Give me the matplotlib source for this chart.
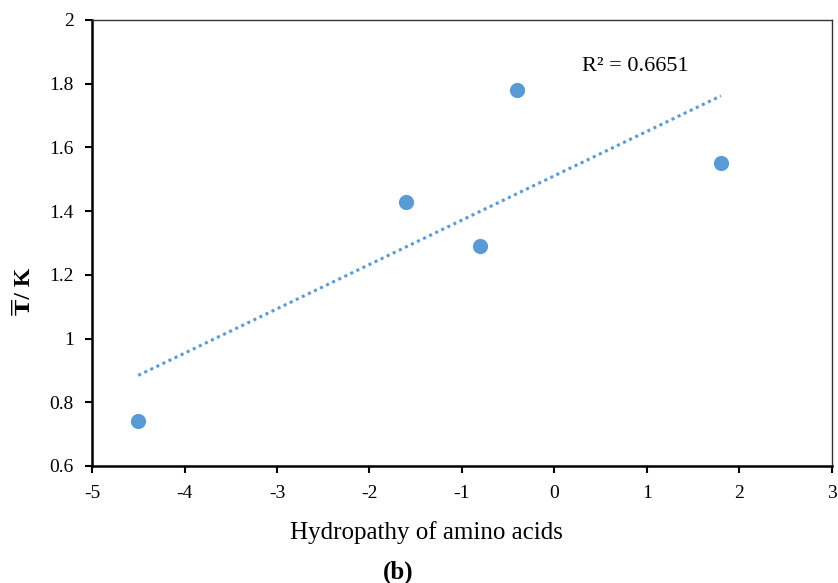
import numpy as np
import matplotlib
matplotlib.use("Agg")
import matplotlib.pyplot as plt

plt.rcParams['font.family'] = ['Liberation Serif', 'DejaVu Serif']
plt.rcParams['axes.unicode_minus'] = False

hydropathy = [-4.5, -1.6, -0.8, -0.4, 1.8]
t_bar = [0.74, 1.43, 1.29, 1.78, 1.55]
r2_text = "R² = 0.6651"

fig = plt.figure(figsize=(8.38, 5.83), dpi=100)
ax = fig.add_axes([0.1098, 0.2007, 0.8830, 0.7650])

ax.scatter(hydropathy, t_bar, s=120, color='#5B9BD5', zorder=3, linewidths=0)

# linear trendline
k, b = np.polyfit(hydropathy, t_bar, 1)
xs = np.array([min(hydropathy), max(hydropathy)])
ax.plot(xs, k * xs + b, linestyle=(0, (1, 1.2)), color='#5B9BD5', linewidth=2.2)

ax.text(0.30, 1.84, r2_text, fontsize=16)

ax.set_xlim(-5, 3)
ax.set_ylim(0.6, 2)
ax.set_xticks(range(-5, 4))
ax.set_yticks([0.6, 0.8, 1, 1.2, 1.4, 1.6, 1.8, 2])
ax.set_yticklabels(['0.6', '0.8', '1', '1.2', '1.4', '1.6', '1.8', '2'])
for s in ['left', 'bottom']:
    ax.spines[s].set_linewidth(1.8)
for s in ['top', 'right']:
    ax.spines[s].set_linewidth(1.0)
    ax.spines[s].set_color('#333333')
ax.tick_params(direction='out', length=5, width=1.5, labelsize=14)
ax.tick_params(axis='x', pad=9)
ax.tick_params(axis='y', pad=8)

fig.text(0.509, 0.075, "Hydropathy of amino acids", fontsize=18, ha='center')
fig.text(0.029, 0.50, "₸/ K", fontsize=17, fontweight='bold', rotation=90,
         ha='center', va='center')
fig.text(0.475, 0.008, "(b)", fontsize=18, fontweight='bold', ha='center')

fig.savefig("out.png", dpi=100)
